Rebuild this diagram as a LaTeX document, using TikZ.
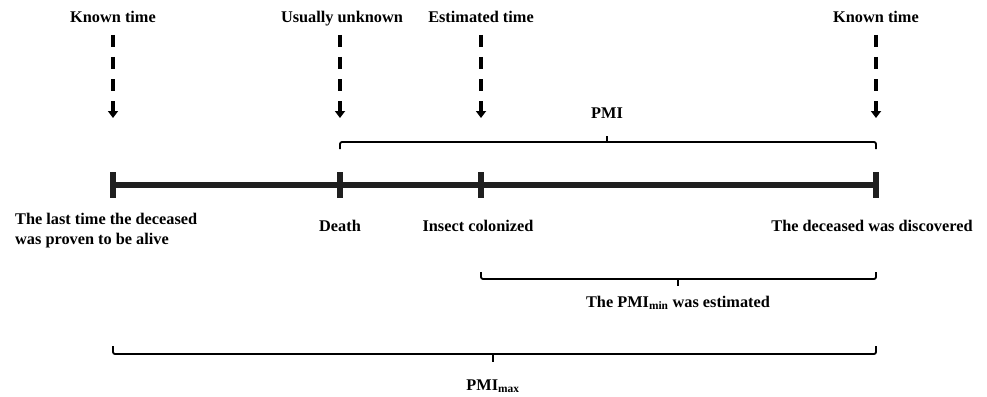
\documentclass[tikz,border=0pt]{standalone}
\usepackage{fontspec}
\setmainfont{Liberation Serif}
\usetikzlibrary{arrows.meta}

\tikzset{
	lbl/.style={font=\fontsize{16.3}{20}\selectfont\bfseries, inner sep=0pt, anchor=base},
	hint/.style={line width=3.6pt, dash pattern=on 12pt off 10pt, -{Triangle[length=7pt,width=10pt]}},
	axis/.style={line width=6pt, black!88},
	span/.style={line width=1.8pt, rounded corners=2pt},
}

\begin{document}
\begin{tikzpicture}[x=1pt,y=-1pt]
	\useasboundingbox (0,0) rectangle (987,396);
	
	% points on the time line
	\coordinate (t1) at (113,185);
	\coordinate (t2) at (340,185);
	\coordinate (t3) at (481,185);
	\coordinate (t4) at (876,185);
	\foreach \i in {1,2,3,4}{
		\coordinate (a\i) at (t\i |- 0,118);
	}
	
	\draw[axis] (t1) -- (t4);
	\foreach \i in {1,2,3,4}{
		\draw[axis] ([yshift=13pt]t\i) -- ([yshift=-13pt]t\i);
	}
	
	% labels on top
	\node[lbl] (known1) at (113,23) {Known time};
	\node[lbl] (unknown) at (342,23) {Usually unknown};
	\node[lbl] (estim) at (481,23) {Estimated time};
	\node[lbl] (known2) at (876,23) {Known time};
	
	\draw[hint] (a1 |- 0,35) -- (a1);
	\draw[hint] (a2 |- 0,35) -- (a2);
	\draw[hint] (a3 |- 0,35) -- (a3);
	\draw[hint] (a4 |- 0,35) -- (a4);
	
	% PMI
	\node[lbl] (pmi) at (607,118) {PMI};
	\draw[span] (t2 |- 0,149) -- (t2 |- 0,142) -- (t4 |- 0,142) -- (t4 |- 0,149);
	\draw[span] (pmi |- 0,142) -- (pmi |- 0,136);
	
	% labels below the line
	\node[lbl, align=left, anchor=north west] (alive) at (15,213) {The last time the deceased\\was proven to be alive};
	\node[lbl] (death) at (340,231) {Death};
	\node[lbl] (insect) at (478,231) {Insect colonized};
	\node[lbl] (found) at (872,231) {The deceased was discovered};
	
	% PMI min
	\node[lbl] (pmimin) at (678,307) {The PMI\textsubscript{min} was estimated};
	\draw[span] (t3 |- 0,272) -- (t3 |- 0,279) -- (t4 |- 0,279) -- (t4 |- 0,272);
	\draw[span] (pmimin |- 0,279) -- (pmimin |- 0,286);
	
	% PMI max
	\node[lbl] (pmimax) at (493,390) {PMI\textsubscript{max}};
	\draw[span] (t1 |- 0,346) -- (t1 |- 0,354) -- (t4 |- 0,354) -- (t4 |- 0,346);
	\draw[span] (pmimax |- 0,354) -- (pmimax |- 0,362);
\end{tikzpicture}
\end{document}
